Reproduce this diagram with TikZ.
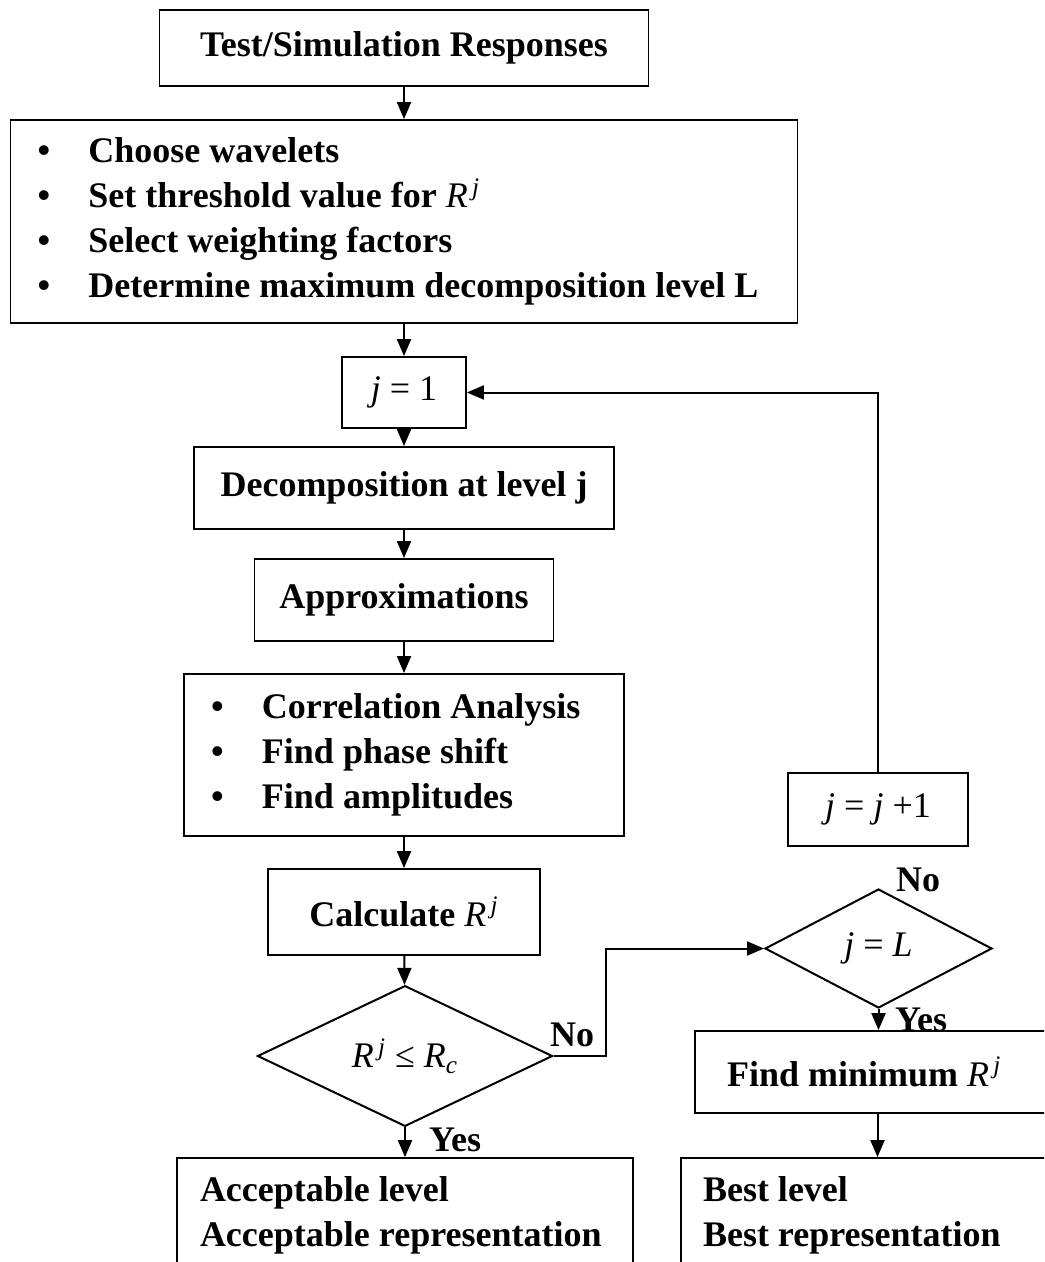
\documentclass[tikz,border=0pt]{standalone}
\usepackage{fontspec}
\setmainfont{Liberation Serif}
\usepackage{tikz}
\usetikzlibrary{positioning,arrows.meta,shapes.geometric,calc}
\tikzset{
  box/.style={rectangle,draw,line width=0.9pt,inner sep=2pt,align=center,
              font=\fontsize{18}{22.5}\selectfont\bfseries},
  listbox/.style={box,align=left,inner xsep=13.5pt,
                  execute at begin node={\spaceskip=0pt\xspaceskip=0pt}},
  dec/.style={diamond,draw,line width=1pt,inner sep=0pt,
              font=\fontsize{18}{22.5}\selectfont},
  edge/.style={-{Triangle[length=8.5pt,width=7pt]},line width=1pt},
}
\newcommand{\itm}{\makebox[25.5pt][l]{\textbullet}}
\newcommand{\Rj}{\textmd{\textit{R}\textsuperscript{\,\textit{j}}}}
\newcommand{\jv}{\textit{j}}

\begin{document}
\begin{tikzpicture}[
    x=0.5pt, y=-0.5pt,
    lbl/.style={font=\fontsize{18}{22}\selectfont\bfseries,inner sep=0pt},
    mbox/.style={box,font=\fontsize{18}{22}\selectfont},
  ]
\clip (0,0) rectangle (1044,1262);
\node[box,minimum width=244.5pt,minimum height=38pt] (resp) at (404,48) {Test/Simulation Responses};
\node[listbox,minimum height=101.5pt,text width=366.5pt] (setup) at (404,221.5)
  {\itm Choose wavelets\\ \itm Set threshold value for~\Rj\\ \itm Select weighting factors\\ \itm Determine maximum decomposition level L};
\node[mbox,minimum width=62pt,minimum height=35.5pt] (one) at (404,392.5) {\jv{} = 1};
\node[box,minimum width=210pt,minimum height=41pt] (decomp) at (404,488) {Decomposition at level j};
\node[box,minimum width=149.5pt,minimum height=41pt] (approx) at (404,600) {Approximations};
\node[listbox,minimum height=81pt,text width=193pt] (corr) at (404,755)
  {\itm Correlation Analysis\\ \itm Find phase shift\\ \itm Find amplitudes};
\node[box,minimum width=136pt,minimum height=43pt] (calc) at (404,912) {Calculate~\Rj};
\node[dec,minimum width=147.5pt,minimum height=67pt] (test) at (405,1056) {\Rj{} ≤ \textit{R}\textsubscript{\textit{c}}};
\node[listbox,text width=205pt,inner xsep=11.5pt,minimum height=57pt] (accept) at (405,1215)
  {Acceptable level\\Acceptable representation};
\node[mbox,minimum width=90pt,minimum height=36.5pt] (incr) at (878,809.5) {\jv{} = \jv{} +1};
\node[dec,minimum width=113.5pt,minimum height=59.5pt] (last) at (878.5,948.5) {\jv{} = \textit{L}};
\node[listbox,text width=150.5pt,inner xsep=16pt,minimum height=41pt] (minim) at (877.5,1072) {Find minimum~\Rj};
\node[listbox,text width=167.5pt,inner xsep=11pt,minimum height=57pt] (best) at (870.5,1215)
  {Best level\\Best representation};
\node[lbl] (noA)  at (572,1035) {No};
\node[lbl] (yesA) at (455,1140) {Yes};
\node[lbl] (noB)  at (918,880)  {No};
\node[lbl] (yesB) at (921,1020) {Yes};
\draw[edge] (resp) -- (setup);
\draw[edge] (setup) -- (one);
\draw[edge] (one) -- (decomp);
\draw[edge] (decomp) -- (approx);
\draw[edge] (approx) -- (corr);
\draw[edge] (corr) -- (calc);
\draw[edge] (calc) -- (test);
\draw[edge] (test) -- (accept);
\draw[edge] (test.east) -- ++(52,0) |- (last.west);
\draw[edge] (last.south) -- (last.south |- minim.north);
\draw[edge] (minim.south) -- (minim.south |- best.north);
\draw[edge] (incr.north) |- (one.east);
\end{tikzpicture}
\end{document}
